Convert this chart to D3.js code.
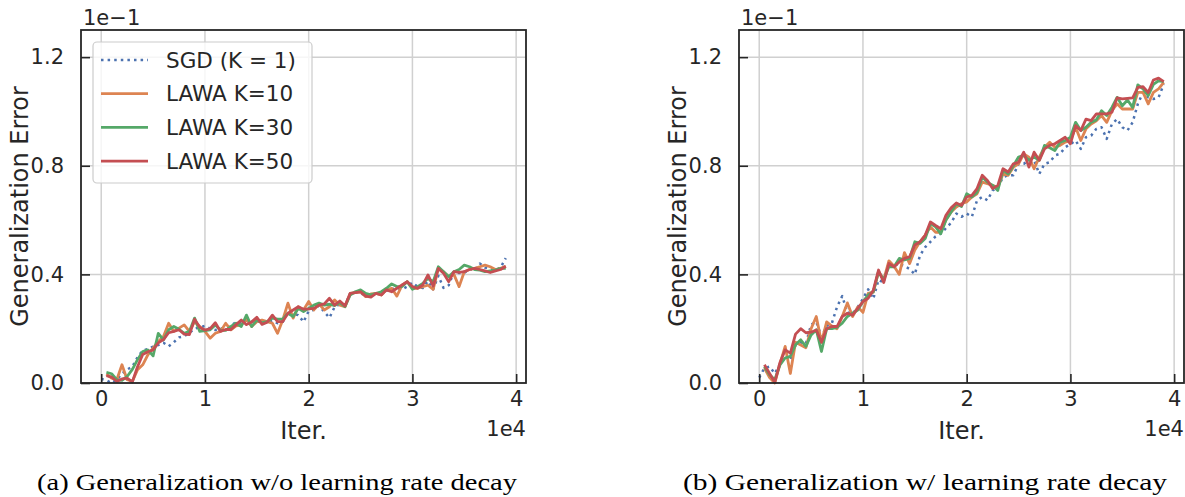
<!DOCTYPE html>
<html>
<head>
<meta charset="utf-8">
<script src="https://cdn.jsdelivr.net/npm/d3@7"></script>
<style>
  html, body { margin: 0; padding: 0; background: #fff; }
  svg { display: block; }
</style>
</head>
<body>
<svg id="chart" width="1185" height="497"></svg>
<script>
// ---------- DATA (y values shown in units of 1e-1, as on the axis) ----------
const iterations = [0, 500, 1000, 1500, 2000, 2500, 3000, 3500, 4000, 4500, 5000, 5500, 6000, 6500, 7000, 7500, 8000, 8500, 9000, 9500,
  10000, 10500, 11000, 11500, 12000, 12500, 13000, 13500, 14000, 14500, 15000, 15500, 16000, 16500, 17000, 17500, 18000, 18500, 19000, 19500,
  20000, 20500, 21000, 21500, 22000, 22500, 23000, 23500, 24000, 24500, 25000, 25500, 26000, 26500, 27000, 27500, 28000, 28500, 29000, 29500,
  30000, 30500, 31000, 31500, 32000, 32500, 33000, 33500, 34000, 34500, 35000, 35500, 36000, 36500, 37000, 37500, 38000, 38500, 39000];

const seriesNames = ["SGD (K = 1)", "LAWA K=10", "LAWA K=30", "LAWA K=50"];
const xTicks = [0, 1, 2, 3, 4];            // x 1e4
const yTicks = [0.0, 0.4, 0.8, 1.2];       // x 1e-1
const captions = ["(a) Generalization w/o learning rate decay", "(b) Generalization w/ learning rate decay"];

// (a) without learning-rate decay ; SGD from iteration 0, LAWA from iteration 500
const sgdNoDecay = [0.015,
  0.01, 0.0, 0.012, 0.035, 0.05, 0.06, 0.095, 0.12, 0.125, 0.134,
  0.14, 0.148, 0.135, 0.15, 0.168, 0.172, 0.185, 0.2, 0.205, 0.21,
  0.2, 0.195, 0.2, 0.205, 0.21, 0.225, 0.22, 0.23, 0.225, 0.23,
  0.22, 0.225, 0.23, 0.22, 0.225, 0.26, 0.255, 0.25, 0.225, 0.265,
  0.27, 0.285, 0.262, 0.24, 0.28, 0.29, 0.285, 0.33, 0.335, 0.33,
  0.322, 0.325, 0.33, 0.325, 0.34, 0.345, 0.35, 0.345, 0.355, 0.37,
  0.355, 0.35, 0.375, 0.345, 0.395, 0.35, 0.36, 0.41, 0.405, 0.405,
  0.42, 0.415, 0.44, 0.425, 0.42, 0.415, 0.425, 0.46];
const lawa10NoDecay = [
  0.033, 0.018, 0.012, 0.067, 0.012, 0.006, 0.049, 0.067, 0.104, 0.128,
  0.153, 0.171, 0.22, 0.19, 0.202, 0.214, 0.19, 0.226, 0.208, 0.19,
  0.165, 0.183, 0.19, 0.22, 0.196, 0.21, 0.214, 0.235, 0.208, 0.226,
  0.232, 0.226, 0.22, 0.183, 0.232, 0.294, 0.239, 0.281, 0.269, 0.3,
  0.269, 0.291, 0.269, 0.281, 0.306, 0.287, 0.281, 0.33, 0.333, 0.336,
  0.318, 0.328, 0.33, 0.324, 0.343, 0.349, 0.32, 0.36, 0.373, 0.349,
  0.349, 0.355, 0.36, 0.345, 0.422, 0.41, 0.392, 0.4, 0.355, 0.41,
  0.418, 0.422, 0.428, 0.434, 0.428, 0.418, 0.422, 0.43];
const lawa30NoDecay = [
  0.039, 0.034, 0.012, 0.01, 0.024, 0.05, 0.086, 0.116, 0.122, 0.1,
  0.183, 0.159, 0.196, 0.208, 0.198, 0.183, 0.19, 0.239, 0.19, 0.193,
  0.196, 0.214, 0.194, 0.194, 0.208, 0.22, 0.208, 0.25, 0.208, 0.232,
  0.222, 0.226, 0.239, 0.235, 0.235, 0.257, 0.245, 0.275, 0.263, 0.275,
  0.287, 0.294, 0.287, 0.29, 0.285, 0.296, 0.281, 0.324, 0.336, 0.343,
  0.33, 0.325, 0.33, 0.336, 0.349, 0.365, 0.355, 0.355, 0.373, 0.345,
  0.355, 0.367, 0.385, 0.373, 0.428, 0.41, 0.391, 0.41, 0.418, 0.434,
  0.428, 0.418, 0.416, 0.41, 0.413, 0.416, 0.422, 0.422];
const lawa50NoDecay = [
  0.027, 0.022, 0.006, 0.015, 0.018, 0.004, 0.06, 0.105, 0.115, 0.122,
  0.148, 0.160, 0.185, 0.19, 0.196, 0.18, 0.178, 0.235, 0.205, 0.195,
  0.2, 0.222, 0.19, 0.197, 0.197, 0.215, 0.232, 0.215, 0.225, 0.242,
  0.216, 0.224, 0.25, 0.226, 0.226, 0.257, 0.269, 0.281, 0.272, 0.273,
  0.275, 0.287, 0.291, 0.312, 0.287, 0.302, 0.284, 0.33, 0.333, 0.336,
  0.32, 0.316, 0.33, 0.324, 0.343, 0.336, 0.349, 0.361, 0.373, 0.355,
  0.349, 0.361, 0.398, 0.357, 0.422, 0.404, 0.373, 0.41, 0.407, 0.41,
  0.418, 0.422, 0.418, 0.413, 0.407, 0.413, 0.418, 0.43];

// (b) with learning-rate decay
const sgdDecay = [0.02,
  0.055, 0.06, 0.035, 0.07, 0.1, 0.085, 0.14, 0.15, 0.145, 0.215,
  0.225, 0.17, 0.21, 0.22, 0.28, 0.32, 0.26, 0.255, 0.28, 0.31,
  0.345, 0.31, 0.38, 0.37, 0.445, 0.43, 0.44, 0.43, 0.42, 0.4,
  0.47, 0.5, 0.52, 0.54, 0.55, 0.57, 0.59, 0.624, 0.612, 0.624,
  0.612, 0.673, 0.685, 0.673, 0.709, 0.72, 0.758, 0.765, 0.765, 0.807,
  0.807, 0.82, 0.82, 0.77, 0.807, 0.813, 0.838, 0.844, 0.868, 0.88,
  0.893, 0.862, 0.905, 0.911, 0.936, 0.942, 0.899, 0.954, 0.972, 0.942,
  0.93, 0.96, 1.028, 1.07, 1.052, 1.046, 1.052, 1.1];
const lawa10Decay = [
  0.055, 0.02, 0.0, 0.07, 0.135, 0.035, 0.15, 0.14, 0.13, 0.2,
  0.245, 0.15, 0.225, 0.21, 0.2, 0.245, 0.295, 0.245, 0.28, 0.26,
  0.33, 0.335, 0.41, 0.38, 0.45, 0.43, 0.4, 0.48, 0.44, 0.49,
  0.52, 0.545, 0.575, 0.555, 0.555, 0.6, 0.63, 0.648, 0.66, 0.667,
  0.685, 0.697, 0.74, 0.734, 0.728, 0.72, 0.77, 0.765, 0.795, 0.807,
  0.844, 0.832, 0.789, 0.832, 0.868, 0.887, 0.868, 0.875, 0.887, 0.893,
  0.942, 0.893, 0.936, 0.954, 0.966, 0.985, 0.96, 1.003, 1.028, 1.009,
  1.009, 1.009, 1.07, 1.07, 1.028, 1.07, 1.083, 1.107];
const lawa30Decay = [
  0.061, 0.03, 0.012, 0.067, 0.092, 0.098, 0.141, 0.159, 0.135, 0.177,
  0.196, 0.116, 0.2, 0.2, 0.205, 0.22, 0.245, 0.257, 0.269, 0.3,
  0.324, 0.336, 0.41, 0.38, 0.428, 0.428, 0.459, 0.453, 0.459, 0.52,
  0.514, 0.532, 0.587, 0.575, 0.55, 0.6, 0.63, 0.66, 0.65, 0.697,
  0.685, 0.703, 0.758, 0.74, 0.728, 0.709, 0.783, 0.77, 0.8, 0.832,
  0.838, 0.82, 0.832, 0.82, 0.875, 0.866, 0.856, 0.887, 0.893, 0.905,
  0.96, 0.93, 0.942, 0.96, 0.969, 1.003, 0.985, 1.015, 1.052, 1.021,
  1.042, 1.015, 1.098, 1.083, 1.058, 1.1, 1.113, 1.11];
const lawa50Decay = [
  0.067, 0.035, 0.003, 0.075, 0.122, 0.11, 0.18, 0.2, 0.185, 0.187,
  0.195, 0.15, 0.2, 0.208, 0.208, 0.245, 0.257, 0.25, 0.275, 0.3,
  0.312, 0.342, 0.416, 0.37, 0.44, 0.428, 0.446, 0.459, 0.465, 0.508,
  0.52, 0.544, 0.593, 0.58, 0.568, 0.618, 0.645, 0.663, 0.654, 0.685,
  0.691, 0.716, 0.765, 0.746, 0.716, 0.728, 0.789, 0.777, 0.807, 0.813,
  0.85, 0.795, 0.85, 0.82, 0.862, 0.875, 0.881, 0.893, 0.905, 0.881,
  0.948, 0.93, 0.972, 0.966, 0.991, 0.991, 0.991, 0.997, 1.05, 1.046,
  1.048, 1.05, 1.089, 1.091, 1.07, 1.116, 1.123, 1.11];

// ---------- STYLE ----------
const colors = ["#4c72b0", "#dd8452", "#55a868", "#c44e52"];
const textColor = "#262626";
const tickFont = "DejaVu Sans, Verdana, sans-serif";
const lineW = 2.8;

const svg = d3.select("#chart");

function drawPanel(left, right, series, caption, capX, capLen, showLegend) {
  const top = 30, bottom = 383;
  const x = d3.scaleLinear().domain([-1950, 40950]).range([left, right]);
  const y = d3.scaleLinear().domain([0, 1.3]).range([bottom, top]);
  const g = svg.append("g");

  // grid
  g.append("g").selectAll("line").data(xTicks).join("line")
    .attr("x1", d => x(d * 1e4)).attr("x2", d => x(d * 1e4))
    .attr("y1", top).attr("y2", bottom)
    .attr("stroke", "#d0d0d0").attr("stroke-width", 1.5);
  g.append("g").selectAll("line").data(yTicks).join("line")
    .attr("y1", d => y(d)).attr("y2", d => y(d))
    .attr("x1", left).attr("x2", right)
    .attr("stroke", "#d0d0d0").attr("stroke-width", 1.5);

  // lines
  const line = d3.line().x(d => x(d[0])).y(d => y(d[1]));
  series.forEach((vals, k) => {
    const its = k === 0 ? iterations : iterations.slice(1);
    const pts = vals.map((v, i) => [its[i], v]);
    const p = g.append("path").datum(pts)
      .attr("d", line)
      .attr("fill", "none")
      .attr("stroke", colors[k])
      .attr("stroke-width", k === 0 ? 2.5 : lineW)
      .attr("stroke-linejoin", "round");
    if (k === 0) p.attr("stroke-dasharray", "2.5,4.1");
  });

  // axes (inward ticks)
  const xAxis = d3.axisBottom(x).tickValues(xTicks.map(d => d * 1e4))
    .tickFormat(d => d3.format("d")(d / 1e4)).tickSizeInner(-9).tickSizeOuter(0).tickPadding(17);
  const ax = g.append("g").attr("transform", `translate(0,${bottom})`).call(xAxis);
  const yAxis = d3.axisLeft(y).tickValues(yTicks)
    .tickFormat(d3.format(".1f")).tickSizeInner(-9).tickSizeOuter(0).tickPadding(17);
  const ay = g.append("g").attr("transform", `translate(${left},0)`).call(yAxis);
  [ax, ay].forEach(a => {
    a.select(".domain").remove();
    a.selectAll(".tick line").attr("stroke", textColor).attr("stroke-width", 1.6);
    a.selectAll(".tick text").attr("fill", textColor)
      .style("font-family", tickFont).style("font-size", "21px");
  });
  ax.selectAll(".tick text").attr("y", 8).attr("dy", "0.71em");

  // frame
  g.append("rect").attr("x", left).attr("y", top)
    .attr("width", right - left).attr("height", bottom - top)
    .attr("fill", "none").attr("stroke", textColor).attr("stroke-width", 1.8);

  // offset texts and labels
  g.append("text").attr("x", left + 2).attr("y", 25).text("1e\u22121")
    .attr("fill", textColor).style("font-family", tickFont).style("font-size", "21px");
  g.append("text").attr("x", right).attr("y", 436).attr("text-anchor", "end").text("1e4")
    .attr("fill", textColor).style("font-family", tickFont).style("font-size", "21px");
  g.append("text").attr("x", (left + right) / 2).attr("y", 439).attr("text-anchor", "middle").text("Iter.")
    .attr("fill", textColor).style("font-family", tickFont).style("font-size", "24px");
  g.append("text").attr("transform", `translate(${left - 53},${(top + bottom) / 2}) rotate(-90)`)
    .attr("text-anchor", "middle").text("Generalization Error")
    .attr("fill", textColor).style("font-family", tickFont).style("font-size", "24px");

  // caption
  g.append("text").attr("x", capX).attr("y", 490).text(caption)
    .attr("textLength", capLen).attr("lengthAdjust", "spacingAndGlyphs")
    .attr("fill", "#000").style("font-family", "Liberation Serif, Times New Roman, serif").style("font-size", "23px");

  if (showLegend) {
    const lg = g.append("g");
    lg.append("rect").attr("x", left + 12).attr("y", 42).attr("width", 219).attr("height", 141)
      .attr("rx", 4).attr("fill", "#fff").attr("fill-opacity", 0.8)
      .attr("stroke", "#cccccc").attr("stroke-width", 1.2);
    seriesNames.forEach((name, k) => {
      const cy = 60 + k * 33.7;
      const l = lg.append("line").attr("x1", left + 20).attr("x2", left + 67)
        .attr("y1", cy).attr("y2", cy).attr("stroke", colors[k]).attr("stroke-width", k === 0 ? 2.5 : lineW);
      if (k === 0) l.attr("stroke-dasharray", "2.5,4.1");
      lg.append("text").attr("x", left + 85).attr("y", cy).attr("dy", "0.36em").text(name)
        .attr("fill", textColor).style("font-family", tickFont).style("font-size", "21.5px");
    });
  }
}

drawPanel(81, 526, [sgdNoDecay, lawa10NoDecay, lawa30NoDecay, lawa50NoDecay], captions[0], 37, 480, true);
drawPanel(739, 1184, [sgdDecay, lawa10Decay, lawa30Decay, lawa50Decay], captions[1], 683, 484, false);
</script>
</body>
</html>
